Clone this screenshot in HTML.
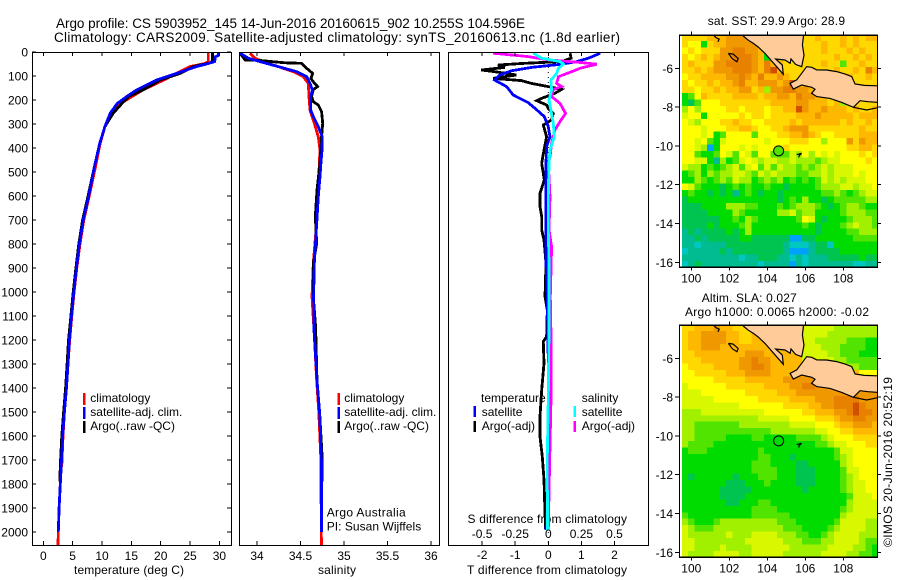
<!DOCTYPE html>
<html><head><meta charset="utf-8"><title>Argo profile</title>
<style>
html,body{margin:0;padding:0;background:#fff;width:900px;height:580px;overflow:hidden}
svg{display:block}
text{font-family:"Liberation Sans",sans-serif;font-size:12px;fill:#000}
.ttl{font-size:13.5px}
</style></head>
<body>
<svg id="fig" xmlns="http://www.w3.org/2000/svg" width="900" height="580" viewBox="0 0 900 580">
<rect x="0" y="0" width="900" height="580" fill="#fff"/>
<defs>
<clipPath id="c1"><rect x="32" y="52" width="199" height="493"/></clipPath>
<clipPath id="c2"><rect x="239" y="52" width="200" height="493"/></clipPath>
<clipPath id="c3"><rect x="448" y="52" width="200" height="493"/></clipPath>
<clipPath id="m1"><rect x="680" y="35" width="197" height="232"/></clipPath>
<clipPath id="m2"><rect x="680" y="325" width="197" height="232"/></clipPath>
</defs>
<text class="ttl" x="56" y="28" textLength="469">Argo profile: CS 5903952_145 14-Jun-2016 20160615_902 10.255S 104.596E</text>
<text class="ttl" x="54" y="42" textLength="566">Climatology: CARS2009. Satellite-adjusted climatology: synTS_20160613.nc (1.8d earlier)</text>
<text x="74" y="574" textLength="110">temperature (deg C)</text>
<text x="318" y="574" textLength="38">salinity</text>
<text x="467" y="574" textLength="160">T difference from climatology</text>
<text x="467.5" y="523" textLength="159.5">S difference from climatology</text>
<text x="326.7" y="516.7" textLength="79">Argo Australia</text>
<text x="326.7" y="530.7" textLength="94.5">PI: Susan Wijffels</text>
<text x="707.7" y="25" textLength="137.3">sat. SST: 29.9 Argo: 28.9</text>
<text x="701.7" y="302" textLength="95">Altim. SLA: 0.027</text>
<text x="685" y="316" textLength="184">Argo h1000: 0.0065 h2000: -0.02</text>
<text transform="translate(892 547) rotate(-90)" x="0" y="0" textLength="170">©IMOS 20-Jun-2016 20:52:19</text>
<g id="maps"></g>
<g id="panels"></g>
</svg>
<script>
// ---------- temperature panel data ----------
const tempClimDepth=[0,40,48,61,89,117,158,186,214,255,311,381,478,603,700,800,900,1000,1100,1200,1300,1400,1500,1600,1720,1730,1800,1900,2000,2054];
const tempClim=[28.1,28.1,27.5,25,22.7,20.5,17,15.1,13.2,11.6,10.5,9.7,8.9,7.8,6.9,6.25,5.7,5.25,4.85,4.5,4.2,3.95,3.6,3.35,3.15,3.05,2.9,2.7,2.55,2.5];
const tempArgoDepth=[0,38,45,61,89,117,158,186,214,255,311,381,478,603,700,800,900,1000,1100,1200,1300,1400,1500,1600,1700,1790];
const tempArgo=[28.8,28.8,28.5,25.6,23.3,19.9,17,14.5,13.4,11.9,10.5,9.6,8.7,7.6,6.7,6.05,5.55,5.1,4.7,4.3,4.05,3.8,3.45,3.15,2.95,2.8];
const tempSatDepth=[0,15,20,40,50,61,89,117,158,186,214,255,311,381,478,603,700,800,900,1000,1100,1200,1300,1400,1500,1600,1700,1800,1900,2000];
const tempSat=[29.8,29.8,29.3,29.2,27.8,26.1,22.7,19.3,15.9,14.2,12.6,11.4,10.5,9.6,8.7,7.7,6.8,6.15,5.65,5.2,4.8,4.45,4.2,3.95,3.6,3.3,3.1,2.9,2.7,2.55];
const tempTicks=[0,5,10,15,20,25,30];
const depthTicks=[0,100,200,300,400,500,600,700,800,900,1000,1100,1200,1300,1400,1500,1600,1700,1800,1900,2000];
// ---------- salinity panel data ----------
const salClimDepth=[5,26,40,61,82,103,131,186,242,297,353,408,464,603,742,881,1019,1158,1368,1500,1700,2054];
const salClim=[33.92,33.977,34.07,34.245,34.417,34.532,34.59,34.598,34.609,34.659,34.705,34.724,34.716,34.705,34.678,34.647,34.632,34.655,34.686,34.71,34.735,34.74];
const salArgoDepth=[5,33,36,45,47,68,89,110,124,144,156,186,207,221,249,297,353,464,575,686,797,881,1019,1144,1368,1500,1700,1790];
const salArgo=[33.805,33.862,34.05,34.32,34.513,34.571,34.64,34.62,34.647,34.697,34.647,34.628,34.647,34.705,34.743,34.755,34.743,34.724,34.69,34.67,34.686,34.647,34.647,34.674,34.69,34.72,34.75,34.75];
const salSatDepth=[5,26,40,61,82,103,131,158,186,242,269,311,353,408,464,519,603,742,881,1019,1158,1368,1500,1700,2000];
const salSat=[33.805,33.9,34.034,34.245,34.456,34.571,34.609,34.636,34.617,34.617,34.647,34.705,34.751,34.747,34.735,34.724,34.705,34.682,34.659,34.651,34.655,34.69,34.72,34.74,34.74];
const salTicks=[34,34.5,35,35.5,36];
// ---------- difference panel data ----------
const dTSatDepth=[5,26,40,51,64,78,96,117,144,179,197,211,235,269,311,353,394,464,603,742,881,1019,1297,1575,1853,1992];
const dTSat=[1.57,1.21,.86,.40,-.51,-1.11,-1.46,-1.62,-1.26,-1.06,-.81,-.61,-.40,-.12,0,.05,-.05,-.07,-.08,-.07,-.07,-.03,0,0,-.03,-.07];
const dTArgoDepth=[5,26,40,47,54,64,75,82,96,110,119,131,144,156,172,193,203,221,235,256,283,304,353,408,464,533,589,644,686,742,783,881,1019,1075,1186,1207,1297,1408,1519,1603,1686,1783,1922,1992];
const dTArgo=[.66,.69,.4,-.71,-1.52,-1.31,-2.02,-1.62,-.96,-1.67,-.81,-.51,0,.4,.2,-.2,-.35,-.05,0,.15,.1,-.15,-.05,-.13,-.2,-.12,-.25,-.25,-.2,-.2,-.13,-.07,-.1,-.03,-.05,-.15,-.13,-.2,-.25,-.25,-.18,-.13,-.1,-.08];
const dSSatDepth=[5,26,40,51,68,89,117,158,200,242,297,353,408,464,603,742,881,1158,1436,1714,1992];
const dSSat=[-.114,-.05,.088,.114,.076,.063,.02,.025,.005,.02,.038,.045,.013,.005,0,0,.005,.005,0,-.008,-.005];
const dSArgoDepth=[5,19,33,43,51,68,82,103,131,144,156,186,214,256,290,325,381,436,464,603,742,811,1019,1158,1297,1464,1714,1992];
const dSArgo=[-.417,-.152,0,.227,.366,.24,.177,.076,.063,.101,.038,.025,.088,.131,.088,.05,.025,.013,0,.013,.005,.025,.015,.02,.02,.02,.01,0];
const dTTicks=[-2,-1,0,1,2];
const dSTicks=[-0.5,-0.25,0,0.25,0.5];
const dSTickLabels=["-0.5","-0.25","0","0.25","0.5"];
// ---------- map data ----------
const lonTicks=[100,102,104,106,108];
const latTicks=[-6,-8,-10,-12,-14,-16];
const palette=["#00a0ff","#00c8c0","#00bc90","#00c450","#00dc00","#50e400","#a0f000","#d8f800","#ffff00","#ffd800","#ffb800","#f09800","#e88000","#d05000"];
const sstGrid=[
[8,8,8,8,9,9,9,10,10,10,10,9,9,8,8,8,8,8,8,8,8,9,8,8,8,9,8,9,8,9,9],
[8,7,7,3,8,9,9,10,10,10,10,10,9,9,8,8,8,8,8,8,8,8,9,8,8,9,8,9,8,8,8],
[7,8,7,8,8,8,10,10,11,11,10,10,9,9,9,8,8,8,8,8,8,8,9,8,8,8,9,8,9,8,8],
[8,7,8,9,8,9,10,10,11,11,11,10,9,3,9,8,8,8,8,8,8,8,8,8,9,8,8,9,8,9,8],
[8,9,8,8,8,10,10,11,11,11,11,10,9,11,9,9,8,8,8,8,8,8,9,8,8,4,8,8,9,8,8],
[8,8,9,8,9,10,10,10,11,11,11,10,9,11,12,9,8,8,8,8,8,8,8,8,9,8,8,9,8,11,9],
[7,8,8,9,9,9,9,10,10,11,10,9,11,9,9,10,9,8,8,8,8,8,9,8,8,8,9,8,8,9,8],
[8,7,8,8,9,8,9,9,10,11,9,9,10,10,10,9,10,12,8,8,8,8,8,8,8,8,8,8,8,8,8],
[8,8,7,8,8,9,8,9,9,10,10,8,9,5,10,10,11,11,10,10,9,9,9,8,8,8,8,8,8,8,8],
[3,4,7,9,8,8,8,8,9,9,9,9,8,9,9,10,10,9,11,10,10,9,9,8,8,8,8,8,8,8,8],
[3,2,4,7,7,7,8,8,8,8,8,8,8,8,9,9,9,9,10,10,9,9,9,8,9,5,8,8,8,8,8],
[5,7,5,7,7,7,7,8,8,7,8,8,8,7,8,8,9,9,12,10,9,9,10,9,9,9,8,9,8,8,9],
[6,7,7,3,7,7,7,7,7,8,7,8,8,7,8,8,8,8,9,9,9,10,9,9,9,9,9,8,9,9,9],
[7,6,5,7,7,7,8,8,9,8,8,7,7,8,8,8,8,9,8,9,9,9,9,9,9,8,9,8,8,9,8],
[7,7,7,6,7,7,7,8,8,9,9,8,7,7,8,8,9,10,10,10,8,8,8,8,8,8,8,8,9,8,8],
[7,7,7,6,7,3,4,7,7,7,7,4,7,7,7,8,8,9,9,10,9,8,7,7,8,8,8,8,9,9,9],
[7,7,6,7,4,3,6,7,7,7,7,7,7,6,7,7,7,8,8,8,7,7,5,7,7,7,10,8,10,9,9],
[7,7,6,5,-1,3,7,7,7,6,7,6,7,7,7,7,8,7,7,7,7,7,7,7,7,7,8,8,9,9,8],
[7,7,4,3,3,4,7,6,4,7,6,4,7,7,4,4,4,6,5,7,5,7,6,7,6,7,7,7,8,7,8],
[7,7,6,6,3,1,5,3,4,6,7,6,5,6,6,5,5,6,5,5,5,4,5,6,6,7,7,7,7,8,7],
[6,5,5,3,4,3,4,5,6,4,6,7,4,6,4,6,5,5,4,5,4,5,6,5,6,6,6,7,7,7,7],
[3,4,5,3,5,4,5,5,6,6,5,4,6,5,6,5,5,5,4,4,5,5,6,5,6,6,6,7,6,7,7],
[3,3,5,4,3,4,5,4,6,5,5,3,4,5,4,5,3,4,3,4,3,4,6,5,6,5,6,6,6,7,7],
[7,6,4,3,3,3,2,3,4,3,4,3,3,4,3,3,2,3,3,3,3,4,5,5,5,6,6,5,6,6,7],
[3,4,3,3,2,3,2,3,1,3,4,3,2,3,3,2,3,3,3,3,3,3,4,4,5,4,3,4,5,6,6],
[2,3,3,3,3,3,3,3,3,3,3,3,3,3,3,2,3,4,3,5,3,3,2,3,4,4,4,4,4,5,5],
[2,2,2,3,3,3,3,5,5,5,4,4,3,3,3,4,3,4,5,5,5,4,3,2,3,4,5,5,4,3,3],
[2,2,2,2,3,3,3,3,5,4,3,3,3,3,3,5,5,6,4,5,5,3,3,3,3,4,5,5,5,4,4],
[2,2,2,2,2,2,3,3,4,3,5,4,3,3,3,3,3,3,4,7,6,3,2,3,3,3,4,5,5,5,4],
[2,2,2,2,3,2,3,3,3,4,5,3,3,3,3,3,3,3,3,4,3,2,3,3,3,4,5,6,5,5,4],
[1,2,1,2,2,2,2,3,2,3,5,3,3,3,3,3,3,3,3,3,3,2,3,3,3,3,4,4,5,5,5],
[1,1,2,1,2,2,2,2,2,3,3,2,2,2,2,2,2,-1,-1,2,2,3,3,3,3,3,3,4,4,4,4],
[1,1,0,1,1,1,1,2,2,2,2,2,2,2,2,2,1,0,0,0,1,2,2,0,3,3,3,3,3,3,3],
[0,1,1,1,1,1,2,1,2,2,2,2,2,2,2,2,1,-1,-1,-1,1,2,2,2,2,3,3,3,3,3,3],
[1,1,1,1,1,1,1,1,1,0,1,1,2,2,2,1,1,0,1,0,1,1,1,2,2,2,2,2,3,2,2],
[0,1,2,1,1,1,1,1,1,1,1,1,0,1,1,1,1,-1,1,0,1,1,1,1,1,1,1,0,0,1,1]
];
const slaGrid=[
[8,8,9,9,9,10,9,9,8,8,8,8,9,9,9,9,9,9,9,6,6,6,6,6,5,5,5,5,5,5,5],
[8,9,9,10,10,10,10,9,9,8,8,9,9,9,9,9,9,9,9,6,6,6,6,5,5,5,5,5,5,5,5],
[8,9,9,10,10,10,10,9,9,8,8,9,9,9,9,9,9,9,9,6,6,5,5,5,5,5,4,4,4,3,3],
[8,9,9,10,10,10,9,9,9,9,9,9,9,9,9,9,9,9,9,6,6,6,5,5,5,4,4,4,4,3,3],
[8,8,9,9,9,9,9,9,9,9,10,10,10,9,9,9,9,9,9,6,6,6,6,5,5,4,4,4,3,3,3],
[8,8,8,9,9,9,9,9,9,10,10,11,10,10,9,9,9,9,9,6,6,6,6,6,5,5,4,4,4,4,4],
[7,8,8,8,8,9,9,9,9,10,10,11,11,10,9,9,9,9,9,9,6,6,6,6,6,5,5,5,4,4,4],
[7,7,8,8,8,8,8,9,9,9,10,10,10,10,9,9,9,9,10,9,9,9,9,9,9,9,9,9,7,7,7],
[7,7,7,7,7,8,8,8,8,8,9,9,9,9,9,9,10,10,10,10,10,10,10,9,9,9,9,9,9,9,9],
[6,7,7,7,7,7,7,8,8,8,8,8,8,9,9,9,9,10,10,11,11,10,10,10,9,9,9,9,9,9,9],
[6,6,6,7,7,7,7,7,7,7,8,8,8,8,8,9,9,9,10,10,10,10,10,10,10,10,10,10,10,10,10],
[6,6,6,6,6,7,7,7,7,7,7,7,8,8,8,8,8,9,9,9,9,10,10,10,11,11,11,11,10,10,10],
[6,6,6,6,6,6,6,6,6,7,7,7,7,7,7,7,8,8,8,8,9,9,10,10,11,11,11,12,11,10,10],
[5,5,5,6,6,6,6,6,6,6,6,6,6,7,7,7,7,7,7,8,8,9,9,9,10,10,11,12,11,11,10],
[5,5,5,5,5,5,5,5,5,5,5,5,6,6,6,6,6,7,7,7,7,8,8,8,9,10,10,11,11,10,10],
[5,5,4,4,4,4,4,4,4,5,5,5,5,5,5,5,5,6,6,6,6,7,7,7,8,9,9,10,10,10,9],
[5,5,4,4,4,4,4,4,4,4,4,4,4,4,5,5,5,5,5,5,5,6,6,7,7,8,8,9,9,9,9],
[5,5,4,4,4,4,4,3,3,3,3,4,4,3,3,3,3,3,4,4,4,4,5,6,7,7,7,8,8,8,8],
[5,4,4,4,4,3,3,3,3,3,3,3,3,3,3,3,3,3,3,3,3,4,4,5,6,6,7,7,7,8,8],
[3,4,4,4,3,3,3,3,3,3,3,3,4,3,3,3,3,3,3,3,3,3,3,3,4,6,6,7,7,7,7],
[3,3,3,3,3,3,3,3,3,3,3,3,4,4,3,3,3,2,3,3,3,3,3,3,4,5,6,7,7,7,7],
[3,3,3,3,3,3,3,3,3,3,3,4,4,4,3,3,3,3,2,2,3,3,3,3,3,5,6,7,7,7,7],
[3,3,3,3,3,3,3,3,3,3,3,4,4,4,4,3,3,3,2,2,2,3,3,3,3,4,6,6,7,7,7],
[3,2,3,3,3,3,3,3,2,3,3,3,4,4,4,3,3,3,2,2,2,3,3,3,3,4,5,6,7,7,7],
[3,3,3,3,3,3,3,2,2,2,3,3,3,4,3,3,3,3,2,2,2,3,3,3,3,4,5,6,6,7,7],
[3,3,3,3,3,3,2,2,2,2,2,3,3,3,3,3,3,3,3,2,3,3,3,3,3,4,5,6,6,7,7],
[3,3,3,3,3,3,2,2,2,2,3,3,3,3,3,3,3,3,3,3,3,3,3,3,3,3,4,6,6,6,7],
[3,3,3,3,3,3,3,2,2,3,3,3,4,4,3,3,3,3,3,3,3,3,3,3,3,3,5,6,6,6,6],
[3,3,3,3,3,3,3,3,3,3,3,4,4,4,4,3,3,3,3,3,3,3,3,3,3,4,5,6,6,6,6],
[4,3,3,3,3,3,3,3,3,3,3,4,4,4,4,4,4,3,3,3,3,3,3,3,3,5,6,6,6,6,6],
[5,4,3,3,3,4,5,5,5,5,5,5,5,5,5,4,4,4,3,3,3,3,3,3,4,6,6,6,6,5,5],
[6,5,4,4,4,5,5,5,5,5,5,5,5,5,5,5,4,4,4,3,3,3,3,4,5,6,6,6,6,5,5],
[6,5,5,5,5,5,5,6,5,5,5,6,6,6,6,5,5,5,4,4,3,3,4,5,6,6,6,6,5,5,5],
[6,6,5,5,5,5,5,5,5,5,6,6,6,6,6,6,5,5,5,4,4,4,5,5,6,6,6,6,5,4,4],
[6,6,5,5,5,5,6,5,5,5,5,6,6,6,6,6,6,5,5,5,5,5,5,6,6,6,6,5,5,4,3],
[6,5,5,5,5,6,6,6,6,5,5,6,6,6,6,6,5,5,5,5,5,5,6,6,6,6,5,5,4,4,3]
];
const sumatraLon=[102.7,102.74,103.0,103.26,103.52,103.88,104.49,104.84,104.79,104.44,104.93,105.2,105.25,105.49,105.81,105.93,105.85,105.9,105.9];
const sumatraLat=[-4.2,-4.34,-4.55,-4.71,-4.9,-5.23,-5.92,-6.31,-5.83,-5.52,-5.57,-5.74,-5.52,-5.8,-5.92,-5.32,-4.8,-4.37,-4.2];
const javaLon=[106.07,106.34,106.6,107.12,107.65,108.1,108.44,108.62,109.1,109.76,110,110,109.3,108.88,108.53,107.9,107.3,106.6,106.33,106.51,106.34,105.81,105.37,105.2,105.55,105.81,106.07];
const javaLat=[-5.92,-5.95,-6.08,-6.09,-6.17,-6.3,-6.43,-6.81,-6.88,-6.9,-6.9,-7.77,-7.72,-7.67,-8.01,-7.75,-7.55,-7.46,-7.29,-7.08,-6.98,-6.86,-7.07,-6.78,-6.6,-6.26,-5.92];
const kambanganLon=[108.53,109.23,109.9];
const kambanganLat=[-8.01,-8.15,-8.01];
const engganoLon=[101.95,102.2,102.47,102.4,102.15,101.95];
const engganoLat=[-5.23,-5.27,-5.5,-5.66,-5.5,-5.23];
const mentawaiLon=[101.16,101.3,101.47,101.4];
const mentawaiLat=[-4.28,-4.42,-4.5,-4.64];
const christmasLon=[105.55,105.68,105.8,105.68,105.66];
const christmasLat=[-10.45,-10.42,-10.38,-10.5,-10.6];
const argoLon=104.596;
const argoLat=-10.255;
const argoSstLevel=4;

// ---------- axis functions ----------
const yDepth=d=>52+0.24*d;
const xTemp=t=>43.3+5.87*t;
const xSal=s=>344+87*(s-35);
const xDT=d=>548.3+33.1*d;
const xDS=s=>548.3+132.4*s;
const xLon=l=>691.3+19*(l-100);
const yLat=(lat,top)=>top+33.6+19.4*(-6-lat);

const NS="http://www.w3.org/2000/svg";
const panels=document.getElementById('panels');
const maps=document.getElementById('maps');
function mk(parent,tag,attrs,txt){
  const e=document.createElementNS(NS,tag);
  for(const k in attrs)e.setAttribute(k,attrs[k]);
  if(txt!==undefined)e.textContent=txt;
  parent.appendChild(e);
  return e;
}
function profile(parent,depths,vals,xf,color,clip,name,w){
  const pts=depths.map((d,i)=>xf(vals[i]).toFixed(1)+","+yDepth(d).toFixed(1)).join(" ");
  const el=mk(parent,'polyline',{points:pts,fill:"none",stroke:color,"stroke-width":w||2.8,"clip-path":"url(#"+clip+")","shape-rendering":"crispEdges"});
  
  
}
function frame(parent,x,y,w,h,name){
  const el=mk(parent,'rect',{x:x+.5,y:y+.5,width:w,height:h,fill:"none",stroke:"#000","stroke-width":1.3,"shape-rendering":"crispEdges"});
  
  
}
function tick(parent,x1,y1,x2,y2,name){
  const el=mk(parent,'line',{x1,y1,x2,y2,stroke:"#000","stroke-width":1,"shape-rendering":"crispEdges"});
  
  
}
function label(parent,x,y,s,anchor,name){
  const el=mk(parent,'text',{x,y,"text-anchor":anchor},s);
  
  
}
function legendBar(parent,x,y,h,color,name){
  const el=mk(parent,'rect',{x:x,y:y,width:2.4,height:h,fill:color,"shape-rendering":"crispEdges"});
  
  
}

// ---------- panel 1: temperature ----------
const g1=mk(panels,'g',{});


profile(g1,tempClimDepth,tempClim,xTemp,"#ff0000","c1",'temperature-climatology-line');
profile(g1,tempArgoDepth,tempArgo,xTemp,"#000000","c1",'temperature-argo-line');
profile(g1,tempSatDepth,tempSat,xTemp,"#0000ff","c1",'temperature-satellite-line');
frame(g1,32,52,199,493,'temperature-frame');
depthTicks.forEach(d=>{
  tick(g1,32,yDepth(d),36,yDepth(d),'depth-tick-left');
  tick(g1,227,yDepth(d),231,yDepth(d),'depth-tick-right');
  label(g1,28,yDepth(d)+4.5,String(d),"end",'depth-tick-label');
});
tempTicks.forEach(t=>{
  tick(g1,xTemp(t),52,xTemp(t),56,'temperature-tick-top');
  tick(g1,xTemp(t),541,xTemp(t),545,'temperature-tick-bottom');
  label(g1,xTemp(t),560,String(t),"middle",'temperature-tick-label');
});
// ---------- panel 2: salinity ----------
const g2=mk(panels,'g',{});


profile(g2,salClimDepth,salClim,xSal,"#ff0000","c2",'salinity-climatology-line');
profile(g2,salArgoDepth,salArgo,xSal,"#000000","c2",'salinity-argo-line');
profile(g2,salSatDepth,salSat,xSal,"#0000ff","c2",'salinity-satellite-line');
frame(g2,239,52,200,493,'salinity-frame');
salTicks.forEach(s=>{
  tick(g2,xSal(s),52,xSal(s),56,'salinity-tick-top');
  tick(g2,xSal(s),541,xSal(s),545,'salinity-tick-bottom');
  label(g2,xSal(s),560,String(s),"middle",'salinity-tick-label');
});
// ---------- panel 3: differences ----------
const g3=mk(panels,'g',{});


const zero=mk(g3,'line',{x1:xDT(0),y1:yDepth(0),x2:xDT(0),y2:yDepth(2054),stroke:"#000","stroke-width":1,"stroke-dasharray":"1 4"});


profile(g3,dTArgoDepth,dTArgo,xDT,"#000000","c3",'t-difference-argo-line');
profile(g3,dTSatDepth,dTSat,xDT,"#0000ff","c3",'t-difference-satellite-line');
profile(g3,dSArgoDepth,dSArgo,xDS,"#ff00ff","c3",'s-difference-argo-line');
profile(g3,dSSatDepth,dSSat,xDS,"#00ffff","c3",'s-difference-satellite-line');
frame(g3,448,52,200,493,'difference-frame');
dTTicks.forEach(t=>{
  tick(g3,xDT(t),52,xDT(t),56,'t-difference-tick-top');
  tick(g3,xDT(t),541,xDT(t),545,'t-difference-tick-bottom');
  label(g3,xDT(t),559,String(t),"middle",'t-difference-tick-label');
});
dSTicks.forEach((s,i)=>{
  label(g3,xDS(s),538,dSTickLabels[i],"middle",'s-difference-tick-label');
});
// ---------- legends ----------
const legendRows=[402,416,430];
const profileLegend=["climatology","satellite-adj. clim.","Argo(..raw -QC)"];
const legendColors=["#ff0000","#0000ff","#000000"];
[[83,90.3,'temperature'],[337.5,344.3,'salinity']].forEach(p=>{
  profileLegend.forEach((s,i)=>{
    legendBar(panels,p[0],legendRows[i]-9,12,legendColors[i],p[2]+'-legend-swatch');
    label(panels,p[1],legendRows[i],s,"start",p[2]+'-legend-label');
  });
});
label(panels,481,402,"temperature","start",'difference-legend-temperature-heading');
label(panels,481.7,416,"satellite","start",'difference-legend-t-satellite');
label(panels,481.7,430,"Argo(-adj)","start",'difference-legend-t-argo');
legendBar(panels,473.5,406,11,"#0000ff",'difference-legend-t-satellite-swatch');
legendBar(panels,473.5,421,11,"#000000",'difference-legend-t-argo-swatch');
label(panels,581.7,402,"salinity","start",'difference-legend-salinity-heading');
label(panels,581.7,416,"satellite","start",'difference-legend-s-satellite');
label(panels,581.7,430,"Argo(-adj)","start",'difference-legend-s-argo');
legendBar(panels,573.5,406,11,"#00ffff",'difference-legend-s-satellite-swatch');
legendBar(panels,573.5,421,11,"#ff00ff",'difference-legend-s-argo-swatch');

// ---------- maps ----------
function drawMap(grid,top,clip,prefix,argoFill){
  const g=mk(maps,'g',{});
  
  
  const cells=mk(g,'g',{"clip-path":"url(#"+clip+")"});
  
  
  const lon0=99.5,lat0=-4.27,step=1/3;
  grid.forEach((row,r)=>row.forEach((v,c)=>{
    const x0=xLon(lon0+c*step),x1=xLon(lon0+(c+1)*step),y0=yLat(lat0-r*step,top),y1=yLat(lat0-(r+1)*step,top);
    const cell=mk(cells,'rect',{x:x0.toFixed(2),y:y0.toFixed(2),width:(x1-x0+.4).toFixed(2),height:(y1-y0+.4).toFixed(2),fill:palette[v+1],"shape-rendering":"crispEdges"});
    
    
  }));
  const land=mk(g,'g',{"clip-path":"url(#"+clip+")"});
  
  
  const poly=(lons,lats,fill,name)=>{
    const pts=lons.map((l,i)=>xLon(l).toFixed(1)+","+yLat(lats[i],top).toFixed(1)).join(" ");
    const el=mk(land,fill?'polygon':'polyline',{points:pts,fill:fill||"none",stroke:"#000","stroke-width":1.2});
    
    
  };
  poly(sumatraLon,sumatraLat,"#ffcc99",prefix+'-sumatra');
  poly(javaLon,javaLat,"#ffcc99",prefix+'-java');
  poly(kambanganLon,kambanganLat,null,prefix+'-south-java-coast');
  poly(engganoLon,engganoLat,null,prefix+'-enggano-island');
  poly(mentawaiLon,mentawaiLat,null,prefix+'-north-island');
  poly(christmasLon,christmasLat,null,prefix+'-christmas-island');
  const dot=mk(g,'circle',{cx:xLon(argoLon),cy:yLat(argoLat,top),r:5,fill:argoFill,stroke:"#000","stroke-width":1});
  
  
  frame(g,679,top,198,232,prefix+'-frame');
  lonTicks.forEach(l=>{
    tick(g,xLon(l),top-3,xLon(l),top,prefix+'-lon-tick-top');
    tick(g,xLon(l),top+232,xLon(l),top+236,prefix+'-lon-tick-bottom');
    label(g,xLon(l),top+248,String(l),"middle",prefix+'-lon-label');
  });
  latTicks.forEach(la=>{
    tick(g,675,yLat(la,top),679,yLat(la,top),prefix+'-lat-tick-left');
    tick(g,877,yLat(la,top),881,yLat(la,top),prefix+'-lat-tick-right');
    label(g,673,yLat(la,top)+4.5,String(la),"end",prefix+'-lat-label');
  });
}
drawMap(sstGrid,34.7,'m1','sst',palette[argoSstLevel+1]);
drawMap(slaGrid,324.7,'m2','sla','none');
</script>
</body></html>
